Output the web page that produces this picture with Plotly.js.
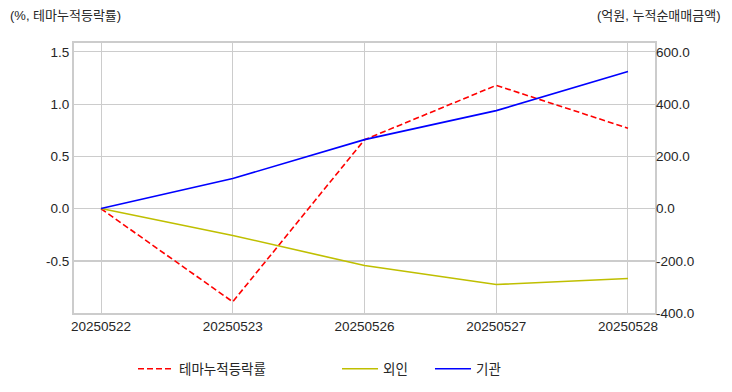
<!DOCTYPE html>
<html>
<head>
<meta charset="utf-8">
<script src="https://cdn.plot.ly/plotly-3.0.1.min.js"></script>
<style>html,body{margin:0;padding:0;background:#fff;}#chart{width:732px;height:392px;}</style>
</head>
<body>
<div id="chart"></div>
<script>
const dates = ["20250522", "20250523", "20250526", "20250527", "20250528"];
const themeRate = [0.0, -0.89, 0.66, 1.18, 0.77];
const foreign = [0.0, -103, -218, -291, -268];
const institution = [0.0, 115, 264, 375, 525];
const leftTicks = [-0.5, 0.0, 0.5, 1.0, 1.5];
const rightTicks = [-400, -200, 0, 200, 400, 600];

const font = "Liberation Sans, Noto Sans CJK KR, Arial, sans-serif";
const tf = 13.5;
const traces = [
  {x: dates, y: themeRate, name: "테마누적등락률", type: "scatter", mode: "lines",
   line: {color: "#ff0000", width: 1.6, dash: "6px,3px"}, yaxis: "y", legend: "legend"},
  {x: dates, y: foreign, name: "외인", type: "scatter", mode: "lines",
   line: {color: "#bfbf00", width: 1.6}, yaxis: "y2", legend: "legend2"},
  {x: dates, y: institution, name: "기관", type: "scatter", mode: "lines",
   line: {color: "#0000ff", width: 1.6}, yaxis: "y2", legend: "legend3"}
];
const legendBase = {orientation: "h", xref: "container", yref: "container", y: 0.0587,
  xanchor: "left", yanchor: "middle", bgcolor: "rgba(0,0,0,0)", font: {size: 13.5}, itemwidth: 36};
const layout = {
  width: 732, height: 392,
  margin: {l: 74, r: 77, t: 43, b: 79},
  paper_bgcolor: "#fff", plot_bgcolor: "#fff",
  font: {family: font, size: tf, color: "#262626"},
  showlegend: true,
  xaxis: {type: "category", range: [-0.205, 4.205], showgrid: true, gridcolor: "#cccccc", gridwidth: 1,
          showline: true, linecolor: "#cccccc", linewidth: 2, mirror: true, ticks: "", zeroline: false,
          tickfont: {size: tf}},
  yaxis: {range: [-0.997, 1.585], tickvals: leftTicks, ticktext: leftTicks.map(v => v.toFixed(1)),
          showgrid: true, gridcolor: "#cccccc", gridwidth: 1, zeroline: false,
          showline: true, linecolor: "#cccccc", linewidth: 2, mirror: true, ticks: "", tickfont: {size: tf}},
  yaxis2: {overlaying: "y", side: "right", range: [-400, 634], tickvals: rightTicks,
           ticktext: rightTicks.map(v => v.toFixed(1)), showgrid: true, gridcolor: "#cccccc", gridwidth: 1,
           zeroline: false, ticks: "", tickfont: {size: tf}},
  legend: Object.assign({}, legendBase, {x: 0.1817}),
  legend2: Object.assign({}, legendBase, {x: 0.4604}),
  legend3: Object.assign({}, legendBase, {x: 0.5874}),
  annotations: [
    {text: "(%, 테마누적등락률)", xref: "paper", yref: "paper", x: -0.114, y: 1.1, xanchor: "left", yanchor: "middle",
     showarrow: false, font: {size: 13}},
    {text: "(억원, 누적순매매금액)", xref: "paper", yref: "paper", x: 1.117, y: 1.1, xanchor: "right", yanchor: "middle",
     showarrow: false, font: {size: 13}}
  ]
};
Plotly.newPlot("chart", traces, layout, {displayModeBar: false, staticPlot: true});
</script>
</body>
</html>
